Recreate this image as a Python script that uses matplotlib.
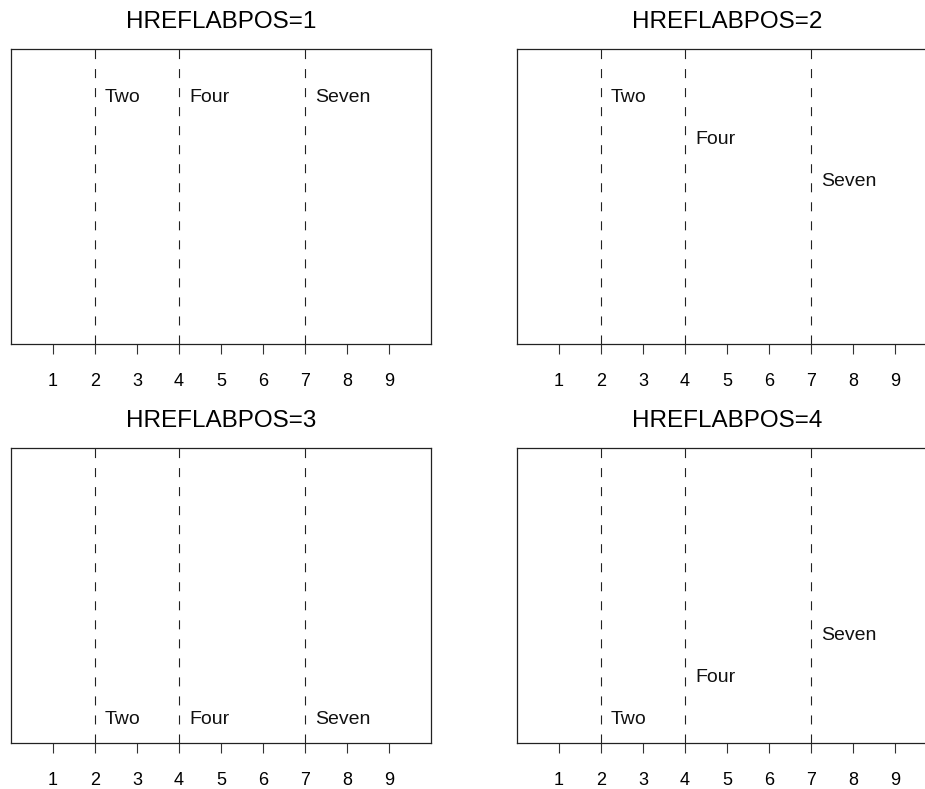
import matplotlib.pyplot as plt

plt.rcParams['font.family'] = ['Liberation Sans', 'DejaVu Sans']
plt.rcParams['lines.scale_dashes'] = False

# reference lines and their labels
ref_values = [2, 4, 7]
ref_labels = ["Two", "Four", "Seven"]
tick_values = [1, 2, 3, 4, 5, 6, 7, 8, 9]
label_modes = [1, 2, 3, 4]

fig = plt.figure(figsize=(9.25, 7.89), dpi=100)

W, H = 925.0, 789.0
# panel boxes in pixels: left, top
boxes = [(11, 49), (517, 49), (11, 448), (517, 448)]
box_w, box_h = 420, 295

PX = 0.72  # px -> points at 100 dpi

for mode, (left, top) in zip(label_modes, boxes):
    ax = fig.add_axes([left / W, (H - top - box_h) / H, box_w / W, box_h / H])
    ax.set_xlim(0, 10)
    ax.set_ylim(0, 1)
    ax.set_yticks([])
    ax.set_xticks(tick_values)
    ax.set_xticklabels([str(t) for t in tick_values])
    ax.tick_params(axis='x', direction='out', length=7.2, width=0.8,
                   pad=14, labelsize=13, color='#333333')
    for s in ax.spines.values():
        s.set_linewidth(0.9)
        s.set_color('#222222')
    ax.set_title(f"HREFLABPOS={mode}", fontsize=17.5, pad=15)

    for k, (xv, lab) in enumerate(zip(ref_values, ref_labels)):
        ax.axvline(xv, color='#222222', linewidth=0.8,
                   linestyle=(0, (6.5, 7.2)))
        if mode == 1:
            yfrac, dy = 1, -53
        elif mode == 2:
            yfrac, dy = 1, -(53 + 42 * k)
        elif mode == 3:
            yfrac, dy = 0, 19.5
        else:
            yfrac, dy = 0, 19.5 + 42 * k
        ax.annotate(lab, xy=(xv, yfrac), xycoords=('data', 'axes fraction'),
                    xytext=(10 * PX, dy * PX), textcoords='offset points',
                    ha='left', va='baseline', fontsize=14, color='#111111')

fig.savefig("out.png", dpi=100)
